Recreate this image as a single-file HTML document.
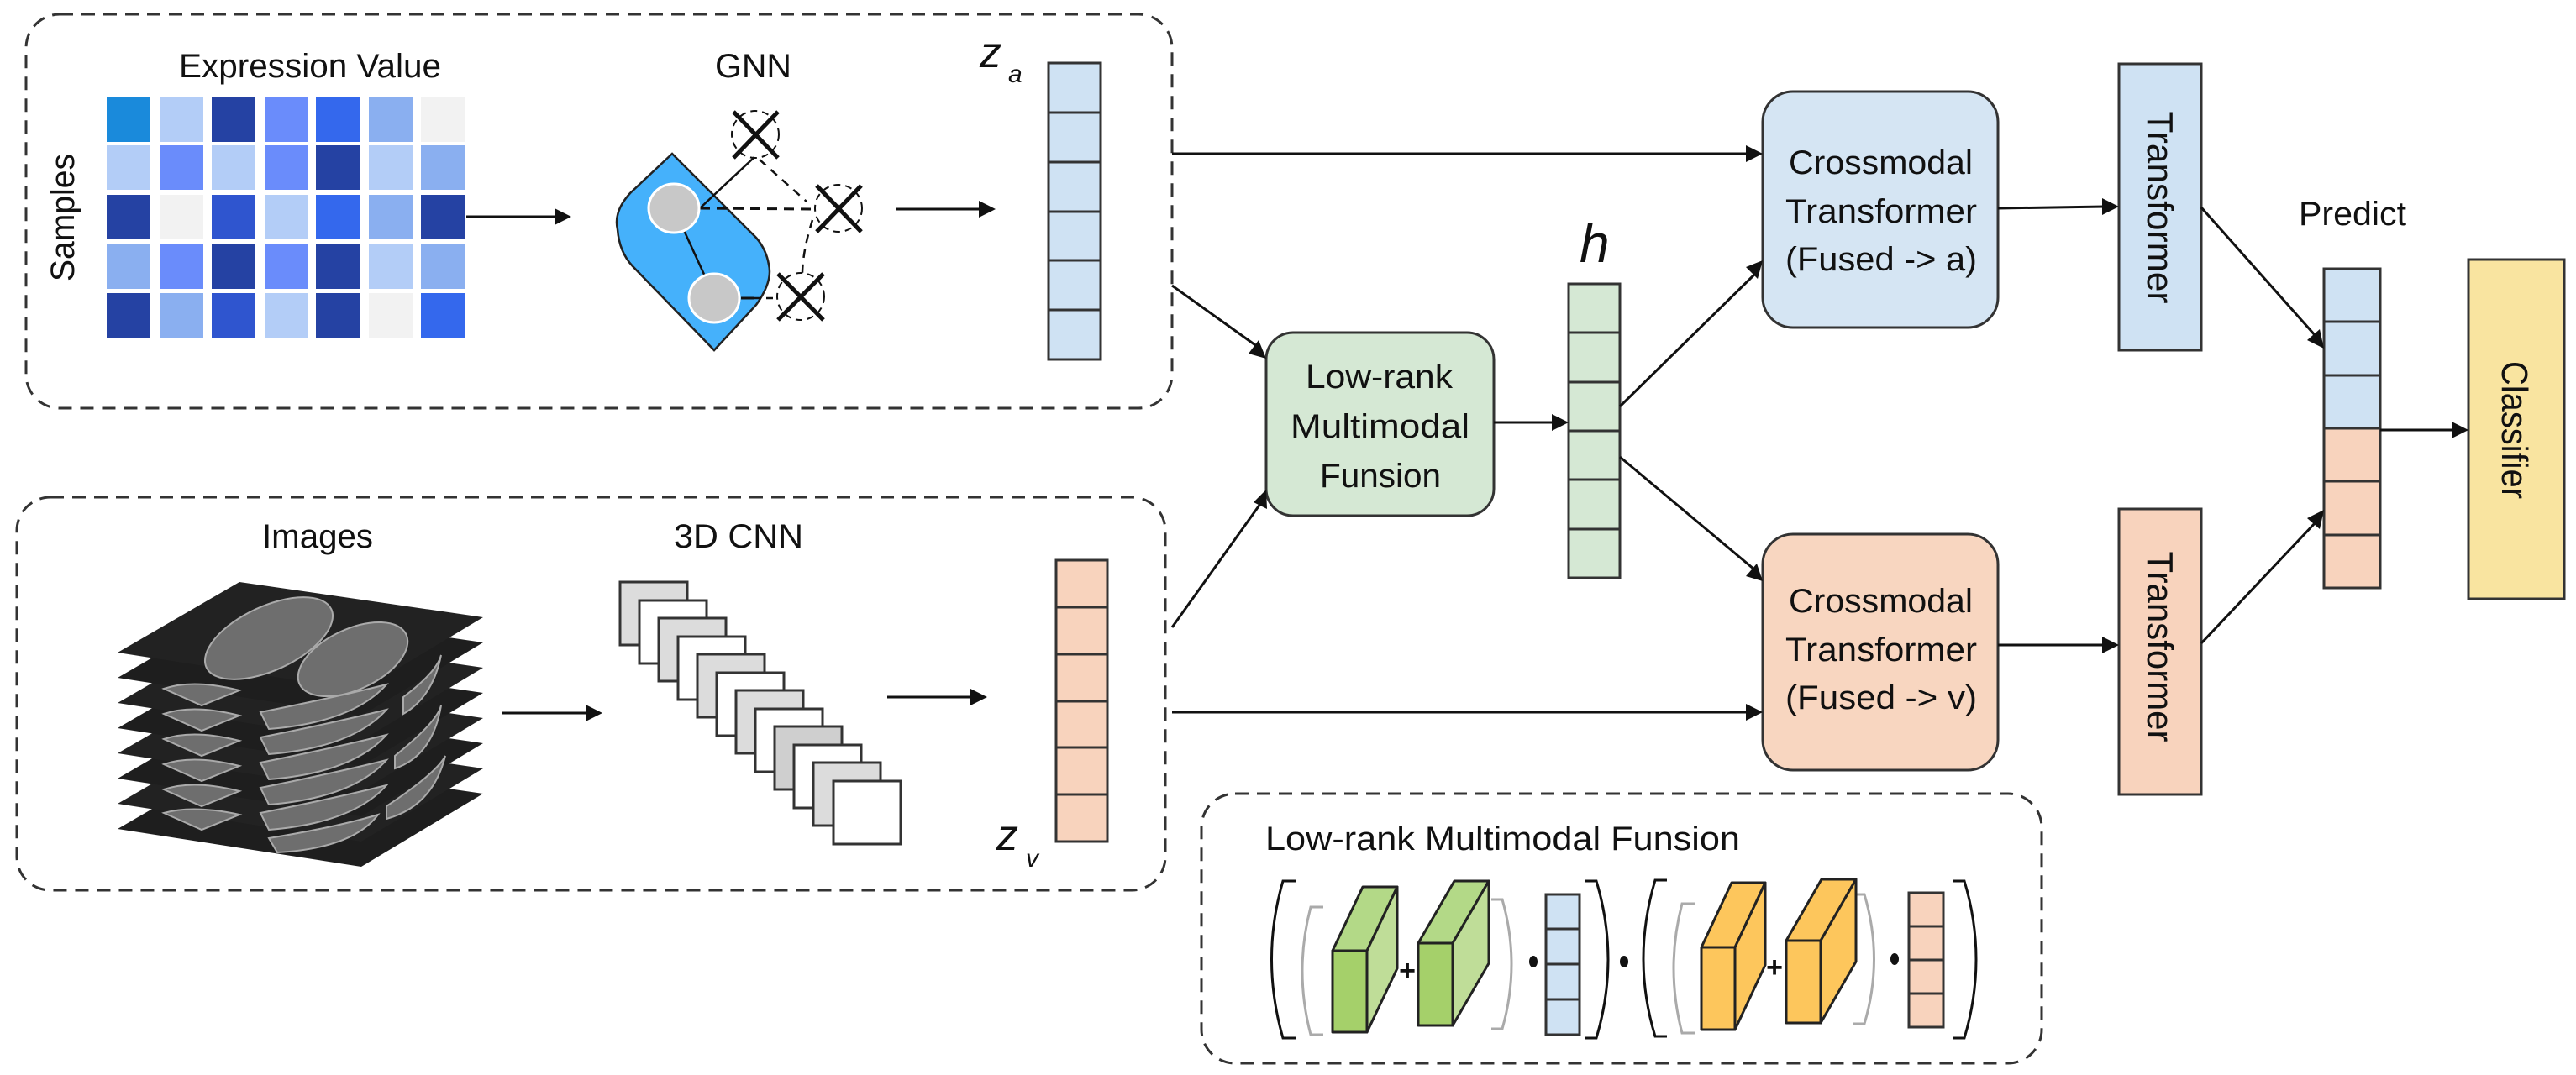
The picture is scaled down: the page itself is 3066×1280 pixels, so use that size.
<!DOCTYPE html>
<html><head><meta charset="utf-8"><style>
html,body{margin:0;padding:0;background:#fff;}
svg{display:block;}
text{font-family:"Liberation Sans",sans-serif;fill:#111;}
</style></head><body>
<svg width="3066" height="1280" viewBox="0 0 3066 1280" xmlns="http://www.w3.org/2000/svg">
<rect width="3066" height="1280" fill="#fff"/>

<g fill="none" stroke="#333" stroke-width="3" stroke-dasharray="16 10">
<rect x="31" y="17" width="1364" height="469" rx="40"/>
<rect x="20" y="592" width="1367" height="468" rx="40"/>
<rect x="1430" y="945" width="1000" height="321" rx="40"/>
</g>

<text x="213" y="92" font-size="40" textLength="312" lengthAdjust="spacingAndGlyphs">Expression Value</text>
<text x="851" y="92" font-size="40" textLength="91" lengthAdjust="spacingAndGlyphs">GNN</text>
<text transform="translate(88,259) rotate(-90)" text-anchor="middle" font-size="40" textLength="152" lengthAdjust="spacingAndGlyphs">Samples</text>

<g>
<rect x="127" y="116" width="52" height="53" fill="#1a8adb"/><rect x="190" y="116" width="52" height="53" fill="#b3cdf7"/><rect x="252" y="116" width="52" height="53" fill="#2542a3"/><rect x="315" y="116" width="52" height="53" fill="#6a8cfb"/><rect x="376" y="116" width="52" height="53" fill="#3468ed"/><rect x="439" y="116" width="52" height="53" fill="#8aaff0"/><rect x="501" y="116" width="52" height="53" fill="#f2f2f2"/>
<rect x="127" y="173" width="52" height="53" fill="#b3cdf7"/><rect x="190" y="173" width="52" height="53" fill="#6a8cfb"/><rect x="252" y="173" width="52" height="53" fill="#b3cdf7"/><rect x="315" y="173" width="52" height="53" fill="#6a8cfb"/><rect x="376" y="173" width="52" height="53" fill="#2542a3"/><rect x="439" y="173" width="52" height="53" fill="#b3cdf7"/><rect x="501" y="173" width="52" height="53" fill="#8aaff0"/>
<rect x="127" y="232" width="52" height="53" fill="#2542a3"/><rect x="190" y="232" width="52" height="53" fill="#f2f2f2"/><rect x="252" y="232" width="52" height="53" fill="#2f55cf"/><rect x="315" y="232" width="52" height="53" fill="#b3cdf7"/><rect x="376" y="232" width="52" height="53" fill="#3468ed"/><rect x="439" y="232" width="52" height="53" fill="#8aaff0"/><rect x="501" y="232" width="52" height="53" fill="#2542a3"/>
<rect x="127" y="291" width="52" height="53" fill="#8aaff0"/><rect x="190" y="291" width="52" height="53" fill="#6a8cfb"/><rect x="252" y="291" width="52" height="53" fill="#2542a3"/><rect x="315" y="291" width="52" height="53" fill="#6a8cfb"/><rect x="376" y="291" width="52" height="53" fill="#2542a3"/><rect x="439" y="291" width="52" height="53" fill="#b3cdf7"/><rect x="501" y="291" width="52" height="53" fill="#8aaff0"/>
<rect x="127" y="349" width="52" height="53" fill="#2542a3"/><rect x="190" y="349" width="52" height="53" fill="#8aaff0"/><rect x="252" y="349" width="52" height="53" fill="#2f55cf"/><rect x="315" y="349" width="52" height="53" fill="#b3cdf7"/><rect x="376" y="349" width="52" height="53" fill="#2542a3"/><rect x="439" y="349" width="52" height="53" fill="#f2f2f2"/><rect x="501" y="349" width="52" height="53" fill="#3468ed"/>
</g>

<!-- GNN -->
<path d="M800,183 L750,230 Q730,252 735,273 Q737,300 753,317 L850,417 L900,363 Q920,335 915,315 Q912,297 900,283 Z" fill="#45b1fb" stroke="#222" stroke-width="2.5"/>
<g stroke="#111" stroke-width="2.5" fill="none">
<line x1="833" y1="248" x2="898" y2="187"/>
<line x1="802" y1="248" x2="851" y2="355"/>
<line x1="882" y1="355" x2="898" y2="355" stroke-width="3"/>
<path d="M898,355 H923" stroke-dasharray="8 6"/>
<line x1="833" y1="248" x2="967" y2="249" stroke-dasharray="12 8" stroke-width="3"/>
<path d="M904,190 L960,240" stroke-dasharray="10 8"/>
<path d="M967,262 Q955,300 955,327" stroke-dasharray="10 8"/>
</g>
<ellipse cx="802" cy="248" rx="30" ry="29" fill="#c8c8c8" stroke="#fff" stroke-width="3"/>
<ellipse cx="850" cy="355" rx="30" ry="29" fill="#c8c8c8" stroke="#fff" stroke-width="3"/>
<g stroke="#111" fill="none">
<ellipse cx="899" cy="160" rx="28" ry="28" stroke-dasharray="8 6" stroke-width="2"/>
<path d="M873,133 L926,188 M926,133 L873,188" stroke-width="5"/>
<ellipse cx="998" cy="248" rx="28" ry="28" stroke-dasharray="8 6" stroke-width="2"/>
<path d="M972,221 L1025,276 M1025,221 L972,276" stroke-width="5"/>
<ellipse cx="953" cy="353" rx="28" ry="28" stroke-dasharray="8 6" stroke-width="2"/>
<path d="M926,326 L980,381 M980,326 L926,381" stroke-width="5"/>
</g>

<rect x="1248" y="75" width="62" height="353" fill="#cfe2f3" stroke="#333" stroke-width="3"/>
<g stroke="#333" stroke-width="3"><line x1="1248" y1="134" x2="1310" y2="134"/><line x1="1248" y1="193" x2="1310" y2="193"/><line x1="1248" y1="252" x2="1310" y2="252"/><line x1="1248" y1="310" x2="1310" y2="310"/><line x1="1248" y1="369" x2="1310" y2="369"/></g>
<text x="1166" y="80" font-family="Liberation Serif,serif" font-style="italic" font-size="52">z</text>
<text x="1200" y="98" font-family="Liberation Serif,serif" font-style="italic" font-size="30">a</text>

<text x="312" y="652" font-size="40" textLength="132" lengthAdjust="spacingAndGlyphs">Images</text>
<text x="802" y="652" font-size="40" textLength="154" lengthAdjust="spacingAndGlyphs">3D CNN</text>

<g>
<path d="M140,987 L285,903 L575,945 L430,1032 Z" fill="#1e1e1e"/>
<path d="M140,957 L285,873 L575,915 L430,1002 Z" fill="#222"/>
<path d="M140,927 L285,843 L575,885 L430,972 Z" fill="#1e1e1e"/>
<path d="M140,897 L285,813 L575,855 L430,942 Z" fill="#222"/>
<path d="M140,867 L285,783 L575,825 L430,912 Z" fill="#1e1e1e"/>
<path d="M140,837 L285,753 L575,795 L430,882 Z" fill="#222"/>
<path d="M140,807 L285,723 L575,765 L430,852 Z" fill="#1e1e1e"/>
<path d="M140,777 L285,693 L575,735 L430,822 Z" fill="#222"/>
<g fill="#6e6e6e" stroke="#aaa" stroke-width="2">
<ellipse cx="320" cy="760" rx="82" ry="38" transform="rotate(-25 320 760)"/>
<ellipse cx="420" cy="785" rx="70" ry="36" transform="rotate(-25 420 785)"/>
<path d="M195,820 Q230,808 285,822 L240,840 Z"/>
<path d="M195,850 Q230,838 285,852 L240,870 Z"/>
<path d="M195,880 Q230,868 285,882 L240,900 Z"/>
<path d="M195,910 Q230,898 285,912 L240,930 Z"/>
<path d="M195,940 Q230,928 285,942 L240,960 Z"/>
<path d="M195,968 Q230,958 285,970 L240,988 Z"/>
<path d="M310,848 Q400,830 460,815 Q420,860 320,868 Z"/>
<path d="M310,878 Q400,860 460,845 Q420,890 320,898 Z"/>
<path d="M310,908 Q400,890 460,875 Q420,920 320,928 Z"/>
<path d="M310,938 Q400,920 460,905 Q420,950 320,958 Z"/>
<path d="M310,968 Q400,950 460,935 Q420,980 320,988 Z"/>
<path d="M320,998 Q400,985 450,970 Q420,1010 330,1015 Z"/>
<path d="M480,830 Q520,800 525,780 Q515,830 480,850 Z"/>
<path d="M470,900 Q520,860 525,840 Q515,900 470,915 Z"/>
<path d="M460,960 Q520,920 530,900 Q515,960 460,975 Z"/>
</g>
</g>

<g stroke="#333" stroke-width="3">
<rect x="738" y="693" width="80" height="75" fill="#dcdcdc"/>
<rect x="761" y="715" width="80" height="75" fill="#fff"/>
<rect x="784" y="736" width="80" height="75" fill="#dcdcdc"/>
<rect x="807" y="758" width="80" height="75" fill="#fff"/>
<rect x="830" y="779" width="80" height="75" fill="#dcdcdc"/>
<rect x="853" y="801" width="80" height="75" fill="#fff"/>
<rect x="876" y="822" width="80" height="75" fill="#dcdcdc"/>
<rect x="899" y="844" width="80" height="75" fill="#fff"/>
<rect x="922" y="865" width="80" height="75" fill="#cfcfcf"/>
<rect x="945" y="887" width="80" height="75" fill="#fff"/>
<rect x="968" y="908" width="80" height="75" fill="#dcdcdc"/>
<rect x="992" y="930" width="80" height="75" fill="#fff"/>
</g>

<rect x="1257" y="667" width="61" height="335" fill="#f8d3bd" stroke="#333" stroke-width="3"/>
<g stroke="#333" stroke-width="3"><line x1="1257" y1="723" x2="1318" y2="723"/><line x1="1257" y1="779" x2="1318" y2="779"/><line x1="1257" y1="835" x2="1318" y2="835"/><line x1="1257" y1="890" x2="1318" y2="890"/><line x1="1257" y1="946" x2="1318" y2="946"/></g>
<text x="1186" y="1012" font-family="Liberation Serif,serif" font-style="italic" font-size="52">z</text>
<text x="1221" y="1032" font-family="Liberation Serif,serif" font-style="italic" font-size="30">v</text>

<rect x="1507" y="396" width="271" height="218" rx="32" fill="#d5e8d4" stroke="#333" stroke-width="3"/>
<text x="1554" y="462" font-size="40" textLength="175" lengthAdjust="spacingAndGlyphs">Low-rank</text>
<text x="1536" y="521" font-size="40" textLength="213" lengthAdjust="spacingAndGlyphs">Multimodal</text>
<text x="1571" y="580" font-size="40" textLength="144" lengthAdjust="spacingAndGlyphs">Funsion</text>

<rect x="1867" y="338" width="61" height="350" fill="#d5e8d4" stroke="#333" stroke-width="3"/>
<g stroke="#333" stroke-width="3"><line x1="1867" y1="396" x2="1928" y2="396"/><line x1="1867" y1="455" x2="1928" y2="455"/><line x1="1867" y1="513" x2="1928" y2="513"/><line x1="1867" y1="571" x2="1928" y2="571"/><line x1="1867" y1="630" x2="1928" y2="630"/></g>
<text x="1880" y="312" font-family="Liberation Serif,serif" font-style="italic" font-size="64">h</text>

<rect x="2098" y="109" width="280" height="281" rx="36" fill="#d5e5f3" stroke="#333" stroke-width="3"/>
<text x="2129" y="207" font-size="40" textLength="219" lengthAdjust="spacingAndGlyphs">Crossmodal</text>
<text x="2125" y="265" font-size="40" textLength="228" lengthAdjust="spacingAndGlyphs">Transformer</text>
<text x="2125" y="322" font-size="40" textLength="228" lengthAdjust="spacingAndGlyphs">(Fused -&gt; a)</text>

<rect x="2098" y="636" width="280" height="281" rx="36" fill="#f8d6c0" stroke="#333" stroke-width="3"/>
<text x="2129" y="729" font-size="40" textLength="219" lengthAdjust="spacingAndGlyphs">Crossmodal</text>
<text x="2125" y="787" font-size="40" textLength="228" lengthAdjust="spacingAndGlyphs">Transformer</text>
<text x="2125" y="844" font-size="40" textLength="228" lengthAdjust="spacingAndGlyphs">(Fused -&gt; v)</text>

<rect x="2522" y="76" width="98" height="341" fill="#cfe2f3" stroke="#333" stroke-width="3"/>
<text transform="translate(2556,247) rotate(90)" text-anchor="middle" font-size="44" textLength="229" lengthAdjust="spacingAndGlyphs">Transformer</text>
<rect x="2522" y="606" width="98" height="340" fill="#f8d3bd" stroke="#333" stroke-width="3"/>
<text transform="translate(2556,770) rotate(90)" text-anchor="middle" font-size="44" textLength="227" lengthAdjust="spacingAndGlyphs">Transformer</text>

<text x="2736" y="268" font-size="40" textLength="128" lengthAdjust="spacingAndGlyphs">Predict</text>
<rect x="2766" y="320" width="67" height="380" fill="#cfe2f3" stroke="#333" stroke-width="3"/>
<rect x="2766" y="510" width="67" height="190" fill="#f8d3bd" stroke="#333" stroke-width="3"/>
<g stroke="#333" stroke-width="3"><line x1="2766" y1="383" x2="2833" y2="383"/><line x1="2766" y1="447" x2="2833" y2="447"/><line x1="2766" y1="573" x2="2833" y2="573"/><line x1="2766" y1="637" x2="2833" y2="637"/></g>

<rect x="2938" y="309" width="114" height="404" fill="#f9e4a0" stroke="#333" stroke-width="3"/>
<text transform="translate(2978,512) rotate(90)" text-anchor="middle" font-size="44" textLength="164" lengthAdjust="spacingAndGlyphs">Classifier</text>

<g stroke="#111" stroke-width="3" fill="none">
<line x1="555" y1="258" x2="665" y2="258"/>
<line x1="1066" y1="249" x2="1170" y2="249"/>
<line x1="597" y1="849" x2="700" y2="849"/>
<line x1="1056" y1="830" x2="1160" y2="830"/>
<line x1="1395" y1="183" x2="2080" y2="183"/>
<line x1="1395" y1="340" x2="1497" y2="413"/>
<line x1="1395" y1="747" x2="1500" y2="600"/>
<line x1="1395" y1="848" x2="2080" y2="848"/>
<line x1="1778" y1="503" x2="1850" y2="503"/>
<line x1="1928" y1="484" x2="2089" y2="326"/>
<line x1="1928" y1="544" x2="2088" y2="678"/>
<line x1="2378" y1="248" x2="2505" y2="246"/>
<line x1="2378" y1="768" x2="2505" y2="768"/>
<line x1="2620" y1="247" x2="2756" y2="400"/>
<line x1="2620" y1="766" x2="2756" y2="622"/>
<line x1="2833" y1="512" x2="2920" y2="512"/>
</g>
<g fill="#111">
<polygon points="680,258 660,248 660,268"/>
<polygon points="1185,249 1165,239 1165,259"/>
<polygon points="717,849 697,839 697,859"/>
<polygon points="1175,830 1155,820 1155,840"/>
<polygon points="2098,183 2078,173 2078,193"/>
<polygon points="1507,427 1486,421 1498,405"/>
<polygon points="1507,583 1492,598 1508,606"/>
<polygon points="2098,848 2078,838 2078,858"/>
<polygon points="1867,503 1847,493 1847,513"/>
<polygon points="2098,310 2092,332 2078,318"/>
<polygon points="2098,692 2078,686 2091,671"/>
<polygon points="2522,246 2502,236 2502,256"/>
<polygon points="2522,768 2502,758 2502,778"/>
<polygon points="2766,415 2746,405 2761,392"/>
<polygon points="2766,607 2761,630 2746,617"/>
<polygon points="2938,512 2918,502 2918,522"/>
</g>

<text x="1506" y="1012" font-size="40" textLength="565" lengthAdjust="spacingAndGlyphs">Low-rank Multimodal Funsion</text>
<g fill="none" stroke="#111" stroke-width="3">
<path d="M1542,1049 H1527 Q1500,1142 1527,1236 H1542"/>
<path d="M1887,1049 H1900 Q1928,1142 1900,1236 H1887"/>
<path d="M1984,1048 H1970 Q1942,1142 1970,1234 H1984"/>
<path d="M2325,1049 H2338 Q2366,1142 2338,1236 H2325"/>
</g>
<g fill="none" stroke="#aaa" stroke-width="3">
<path d="M1575,1080 H1560 Q1540,1156 1560,1232 H1575"/>
<path d="M1775,1071 H1788 Q1810,1148 1788,1225 H1775"/>
<path d="M2017,1076 H2002 Q1982,1153 2002,1230 H2017"/>
<path d="M2206,1065 H2219 Q2242,1142 2219,1219 H2206"/>
</g>
<g stroke="#222" stroke-width="3" stroke-linejoin="round">
<polygon points="1586,1132 1622,1056 1663,1056 1627,1132" fill="#b3d987"/>
<polygon points="1627,1132 1663,1056 1663,1153 1627,1229" fill="#bfdd98"/>
<rect x="1586" y="1132" width="41" height="97" fill="#a5d06a"/>
<polygon points="1688,1123 1731,1049 1772,1049 1729,1123" fill="#b3d987"/>
<polygon points="1729,1123 1772,1049 1772,1147 1729,1221" fill="#bfdd98"/>
<rect x="1688" y="1123" width="41" height="98" fill="#a5d06a"/>
<polygon points="2025,1128 2061,1051 2101,1051 2065,1128" fill="#fdc65c"/>
<polygon points="2065,1128 2101,1051 2101,1149 2065,1226" fill="#fdc65c"/>
<rect x="2025" y="1128" width="40" height="98" fill="#fdc65c"/>
<polygon points="2126,1120 2168,1047 2209,1047 2167,1120" fill="#fdc65c"/>
<polygon points="2167,1120 2209,1047 2209,1145 2167,1218" fill="#fdc65c"/>
<rect x="2126" y="1120" width="41" height="98" fill="#fdc65c"/>
</g>
<text x="1675" y="1167" text-anchor="middle" font-size="34" font-weight="bold">+</text>
<text x="2112" y="1163" text-anchor="middle" font-size="34" font-weight="bold">+</text>
<g fill="#111"><ellipse cx="1825" cy="1145" rx="5" ry="7"/><ellipse cx="1933" cy="1145" rx="5" ry="7"/><ellipse cx="2255" cy="1142" rx="5" ry="7"/></g>
<rect x="1840" y="1065" width="40" height="167" fill="#cfe2f3" stroke="#333" stroke-width="3"/>
<g stroke="#333" stroke-width="3"><line x1="1840" y1="1106" x2="1880" y2="1106"/><line x1="1840" y1="1148" x2="1880" y2="1148"/><line x1="1840" y1="1190" x2="1880" y2="1190"/></g>
<rect x="2272" y="1063" width="41" height="160" fill="#f8d3bd" stroke="#333" stroke-width="3"/>
<g stroke="#333" stroke-width="3"><line x1="2272" y1="1103" x2="2313" y2="1103"/><line x1="2272" y1="1143" x2="2313" y2="1143"/><line x1="2272" y1="1183" x2="2313" y2="1183"/></g>
</svg>
</body></html>
